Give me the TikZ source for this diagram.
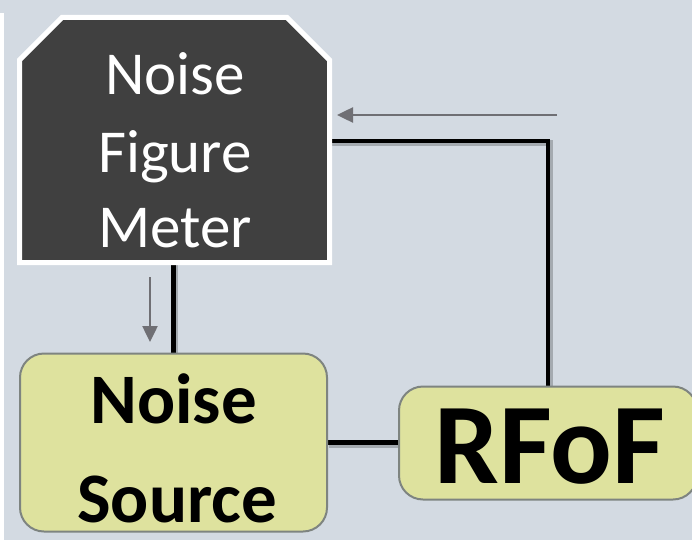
\documentclass[tikz,border=0pt]{standalone}
\usepackage{fontspec}
\setmainfont{Carlito}
\usetikzlibrary{arrows.meta,calc}
\definecolor{bg}{HTML}{D3DAE2}
\definecolor{nfmfill}{HTML}{404040}
\definecolor{boxfill}{HTML}{DEE29E}
\definecolor{boxline}{HTML}{7E8480}
\definecolor{arrowgray}{HTML}{6F6F74}
\begin{document}
\begin{tikzpicture}[x=1pt,y=-1pt,
  box/.style={draw=boxline, line width=2pt, fill=boxfill, rounded corners=24pt, inner sep=0pt},
  ghost/.style={draw=none, inner sep=0pt, rectangle},
  wire/.style={line width=4.5pt, black},
  wireshadow/.style={line width=6pt, black, opacity=0.22, transform canvas={shift={(1.5pt,-2.5pt)}}},
  hint/.style={line width=2.5pt, arrowgray, -{Triangle[length=16pt,width=15pt]}},
  nfmtext/.style={inner sep=0pt, anchor=base, text=white, font=\fontsize{61}{61}\selectfont},
  nstext/.style={inner sep=0pt, anchor=base, text=black, font=\fontsize{71}{71}\selectfont\bfseries},
  rftext/.style={inner sep=0pt, anchor=base, text=black, font=\fontsize{115}{115}\selectfont\bfseries}]
\useasboundingbox (0,0) rectangle (692,540);
\fill[bg] (0,0) rectangle (692,540);
\fill[white] (0,13) rectangle (3.5,540);

% geometry nodes
\node[ghost, minimum width=310pt, minimum height=245pt] (nfm) at (174.5,140) {};
\node[ghost, minimum width=307pt, minimum height=178pt] (nsg) at (173.5,442.5) {};
\node[ghost, minimum width=298pt, minimum height=113pt] (rfg) at (548,443) {};

% connector shadows
\draw[wireshadow] (nsg.north |- nfm.south) -- (nsg.north);
\draw[wireshadow] (nsg.east) -- (nsg.east -| rfg.west);
\draw[wireshadow] ($(nfm.east)+(0,1)$) -| (rfg.north);
% connectors
\draw[wire] (nsg.north |- nfm.south) -- (nsg.north);
\draw[wire] (nsg.east) -- (nsg.east -| rfg.west);
\draw[wire] ($(nfm.east)+(0,1)$) -| (rfg.north);

% Noise Figure Meter body
\draw[white, line width=5pt, fill=nfmfill, line join=miter]
  (19.5,262.5) -- (19.5,60) -- (62,17.5) -- (287,17.5) -- (329.5,60) -- (329.5,262.5) -- cycle;
\node[nfmtext] (nfm1) at (175,95) {Noise};
\node[nfmtext] (nfm2) at (175,172) {Figure};
\node[nfmtext] (nfm3) at (175,247) {Meter};

% Noise Source and RFoF
\node[box, minimum width=307pt, minimum height=178pt] (ns) at (nsg) {};
\node[box, minimum width=298pt, minimum height=113pt] (rfof) at (rfg) {};
\node[nstext] (ns1) at (173.5,423) {Noise};
\node[nstext] (ns2) at (177,522) {Source};
\node[rftext] (rf1) at (550,483) {RFoF};

% gray hint arrows
\coordinate (a1) at (557,115);
\coordinate (a2) at (337,115);
\coordinate (b1) at (150,277);
\coordinate (b2) at (150,342);
\draw[hint] (a1) -- (a2);
\draw[hint] (b1) -- (b2);
\end{tikzpicture}
\end{document}
